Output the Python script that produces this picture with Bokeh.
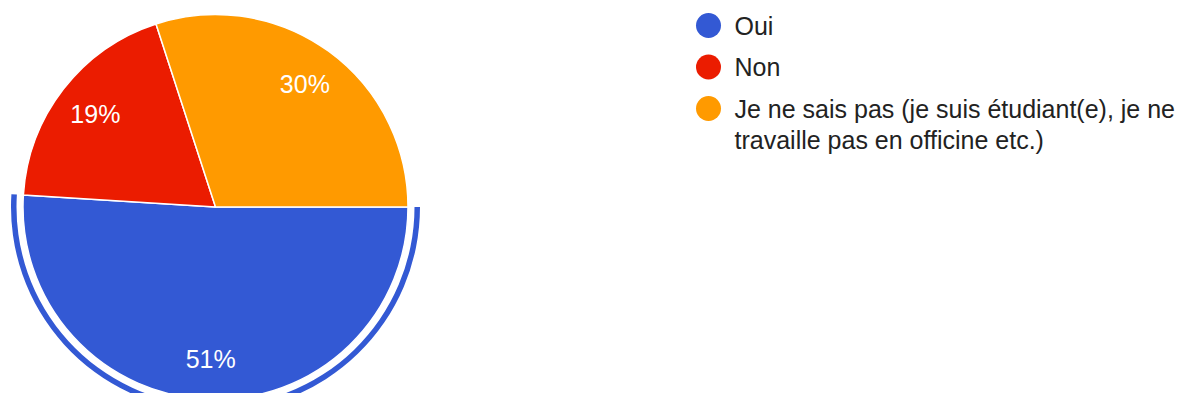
import numpy as np
from bokeh.plotting import figure
from bokeh.models import Range1d, ColumnDataSource
from bokeh.embed import file_html
from bokeh.resources import INLINE
from bokeh.core.properties import value

# ---- data ----
categories = ["Oui", "Non",
              "Je ne sais pas (je suis étudiant(e), je ne\ntravaille pas en officine etc.)"]
percents = [51, 19, 30]
slice_labels = ["51%", "19%", "30%"]
colors = ["#3359D4", "#EB1C00", "#FF9A00"]

# ---- layout ----
W, H = 1184, 393
FONT = "Liberation Sans"
p = figure(width=W, height=H, x_range=Range1d(0, W), y_range=Range1d(409 - H, 409),
           output_backend="svg", toolbar_location=None, min_border=0)
p.axis.visible = False
p.grid.visible = False
p.outline_line_color = None
p.background_fill_color = "white"
p.border_fill_color = "white"

cx, cy, r = 215, 409 - 206.5, 192.5

frac = np.array(percents, dtype=float) / sum(percents)
cum = np.cumsum(frac)
start = -cum * 2 * np.pi
end = -(cum - frac) * 2 * np.pi
mid = (start + end) / 2

src = ColumnDataSource(dict(start=start, end=end, color=colors))
p.wedge(x=cx, y=cy, radius=r, start_angle="start", end_angle="end",
        fill_color="color", line_color="white", line_width=1.5, source=src)

# highlight ring around first slice
p.annular_wedge(x=cx, y=cy, inner_radius=r + 6.5, outer_radius=r + 12,
                start_angle=start[0], end_angle=end[0],
                fill_color=colors[0], line_color=None)

# slice labels
lsrc = ColumnDataSource(dict(x=cx + 0.79 * r * np.cos(mid),
                             y=cy + 0.79 * r * np.sin(mid),
                             t=slice_labels))
p.text(x="x", y="y", text="t", source=lsrc, text_color="white",
       text_align="center", text_baseline="middle",
       text_font=value(FONT), text_font_size="25px")

# legend
lx, ly0, step, line_h = 708, 409 - 25, 41.5, 31
ys = [ly0 - i * step for i in range(len(categories))]
p.scatter(x=[lx] * len(categories), y=ys, marker="circle", size=25,
          fill_color=colors, line_color=None)
tx, tyy, tt = [], [], []
for y, cat in zip(ys, categories):
    for j, line in enumerate(cat.split("\n")):
        tx.append(lx + 26)
        tyy.append(y - j * line_h)
        tt.append(line)
p.text(x=tx, y=tyy, text=tt, text_color="#222222", text_align="left",
       text_baseline="middle", text_font=value(FONT), text_font_size="25px")

open("out.html", "w").write(file_html(p, INLINE))
